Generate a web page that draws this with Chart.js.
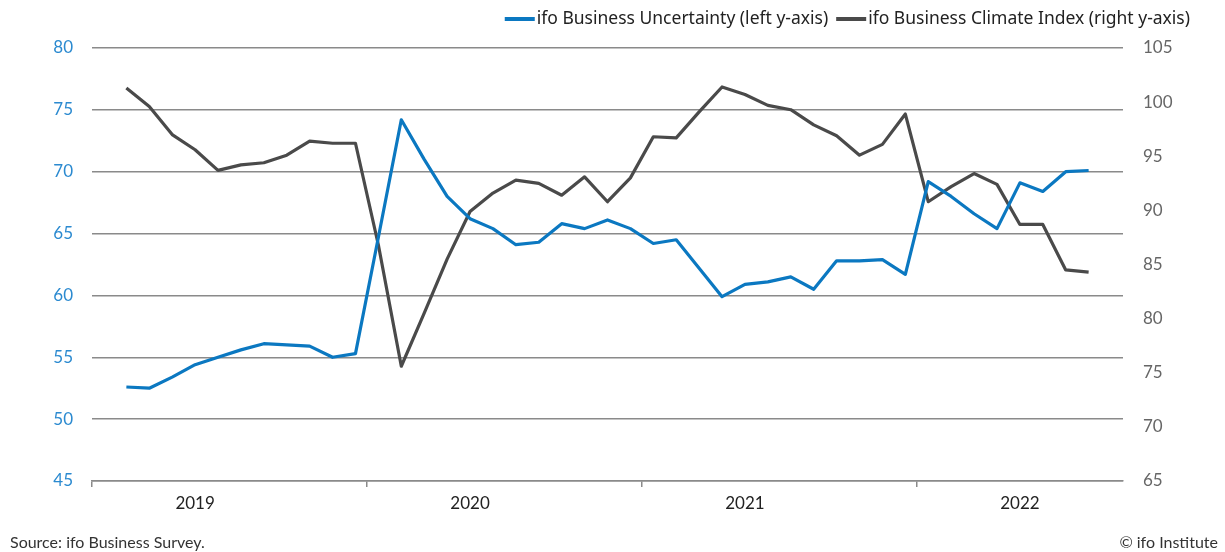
<!DOCTYPE html>
<html><head><meta charset="utf-8">
<script src="https://cdn.jsdelivr.net/npm/chart.js@4.4.1/dist/chart.umd.min.js"></script>
<style>
html,body{margin:0;padding:0;background:#fff;}
#wrap{position:relative;width:1225px;height:552px;overflow:hidden;}
.note{position:absolute;font-family:Lato,'Noto Sans',sans-serif;font-size:16px;color:#333;white-space:nowrap;}
</style></head><body>
<div id="wrap"><canvas id="c" width="1225" height="552"></canvas>
<div class="note" style="left:10px;top:532px;">Source: ifo Business Survey.</div>
<div class="note" style="right:7px;top:532px;">© ifo Institute</div>
</div>
<script>
const categories = [
 '2019-01','2019-02','2019-03','2019-04','2019-05','2019-06','2019-07','2019-08','2019-09','2019-10','2019-11','2019-12',
 '2020-01','2020-02','2020-03','2020-04','2020-05','2020-06','2020-07','2020-08','2020-09','2020-10','2020-11','2020-12',
 '2021-01','2021-02','2021-03','2021-04','2021-05','2021-06','2021-07','2021-08','2021-09','2021-10','2021-11','2021-12',
 '2022-01','2022-02','2022-03','2022-04','2022-05','2022-06','2022-07','2022-08','2022-09'
];
const uncertainty = [
 null,52.6,52.5,53.4,54.4,55.0,55.6,56.1,56.0,55.9,55.0,55.3,
 64.7,74.2,71.0,68.0,66.2,65.4,64.1,64.3,65.8,65.4,66.1,65.4,
 64.2,64.5,62.2,59.9,60.9,61.1,61.5,60.5,62.8,62.8,62.9,61.7,
 69.2,68.0,66.6,65.4,69.1,68.4,70.0,70.1,null
];
const climate = [
 null,101.3,99.6,97.0,95.6,93.7,94.2,94.4,95.1,96.4,96.2,96.2,
 86.8,75.6,80.5,85.5,89.9,91.6,92.8,92.5,91.4,93.1,90.8,93.0,
 96.8,96.7,99.1,101.4,100.7,99.7,99.3,97.9,96.9,95.1,96.1,98.9,
 90.8,92.2,93.4,92.4,88.7,88.7,84.5,84.3,null
];
const seriesNames = ['ifo Business Uncertainty (left y-axis)','ifo Business Climate Index (right y-axis)'];
const yearLabelMonths = ['2019-05','2020-05','2021-05','2022-05'];
const yearLabels = ['2019','2020','2021','2022'];
const yearBoundaryMonths = ['2019-01','2020-01','2021-01','2022-01'];
const leftTicks = {min:45,max:80,step:5};
const rightTicks = {min:65,max:105,step:5};

const BLUE = '#0b78c1', GRAY = '#4a4a4a';
const FONT = 'Lato, "Noto Sans", sans-serif';
const LEGEND_FONT = '"Noto Sans", Lato, sans-serif';

const legendPlugin = {
  id:'customLegend',
  afterDraw(chart){
    const ctx = chart.ctx;
    ctx.save();
    ctx.font = '17.5px ' + LEGEND_FONT;
    ctx.textBaseline = 'middle';
    const y = 19, lineW = 30, gapText = 2, gapItem = 8;
    let x = 1190;
    const items = chart.data.datasets.map(d=>({label:d.label,color:d.borderColor}));
    for (let i = items.length-1; i>=0; i--){
      const w = ctx.measureText(items[i].label).width;
      const tx = x - w;
      ctx.fillStyle = '#222';
      ctx.fillText(items[i].label, tx, y);
      ctx.fillStyle = items[i].color;
      ctx.fillRect(tx - gapText - lineW, y-2, lineW, 4);
      x = tx - gapText - lineW - gapItem;
    }
    ctx.restore();
  }
};

new Chart(document.getElementById('c'), {
  type:'line',
  data:{
    labels: categories,
    datasets:[
      {label:seriesNames[0], data:uncertainty, yAxisID:'yL', borderColor:BLUE, backgroundColor:BLUE, borderWidth:3.2, pointRadius:0, tension:0, spanGaps:false, borderJoinStyle:'round'},
      {label:seriesNames[1], data:climate, yAxisID:'yR', borderColor:GRAY, backgroundColor:GRAY, borderWidth:3.2, pointRadius:0, tension:0, spanGaps:false, borderJoinStyle:'round'}
    ]
  },
  options:{
    responsive:false, animation:false, devicePixelRatio:1,
    layout:{padding:{top:48,left:0,right:0,bottom:0}},
    plugins:{legend:{display:false}, tooltip:{enabled:false}},
    scales:{
      x:{
        type:'category', offset:true,
        grid:{offset:true, drawOnChartArea:false, drawTicks:true, tickLength:6, lineWidth:1.5,
          color:(c)=> (c.index < categories.length && yearBoundaryMonths.includes(categories[c.index])) ? '#8a8a8a' : 'rgba(0,0,0,0)'},
        border:{display:true, color:'#8a8a8a', width:1.5},
        ticks:{autoSkip:false, maxRotation:0, minRotation:0, padding:6, color:'#222', font:{family:FONT,size:17},
          callback:(v,i)=>{ const k = yearLabelMonths.indexOf(categories[i]); return k>=0 ? yearLabels[k] : ''; }},
        afterFit:(s)=>{ s.height = 71; }
      },
      yL:{
        type:'linear', position:'left', min:leftTicks.min, max:leftTicks.max,
        ticks:{stepSize:leftTicks.step, padding:19, color:'#2b8ad0', font:{family:FONT,size:17}},
        grid:{drawTicks:false, color:'#8a8a8a', lineWidth:1.5},
        border:{display:false},
        afterFit:(s)=>{ s.width = 92; }
      },
      yR:{
        type:'linear', position:'right', min:rightTicks.min, max:rightTicks.max,
        ticks:{stepSize:rightTicks.step, padding:20, color:'#666', font:{family:FONT,size:17}},
        grid:{drawOnChartArea:false, drawTicks:false},
        border:{display:false},
        afterFit:(s)=>{ s.width = 102; }
      }
    }
  },
  plugins:[legendPlugin]
});
</script>
</body></html>
